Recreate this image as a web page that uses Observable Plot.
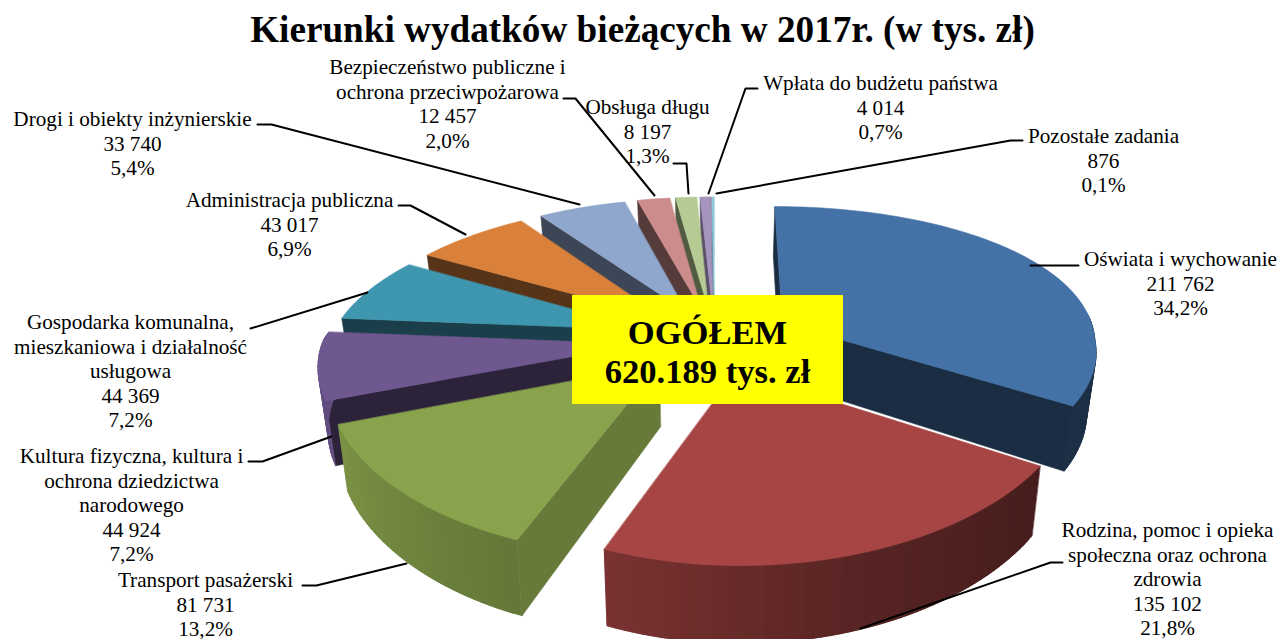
<!DOCTYPE html>
<html lang="pl">
<head>
<meta charset="utf-8">
<script src="https://cdn.jsdelivr.net/npm/d3@7"></script>
<script src="https://cdn.jsdelivr.net/npm/@observablehq/plot@0.6"></script>
<style>
html,body{margin:0;padding:0;background:#fff;overflow:hidden;width:1279px;height:639px}
#title{height:54px;width:1285px;text-align:center;font:bold 37.2px "Liberation Serif",serif;line-height:60px;color:#000;white-space:nowrap}
svg{display:block}
</style>
</head>
<body>
<div id="title">Kierunki wydatków bieżących w 2017r. (w tys. zł)</div>
<script>
// Data
const categories = [
  ["Oświata i wychowanie"],
  ["Rodzina, pomoc i opieka","społeczna oraz ochrona","zdrowia"],
  ["Transport pasażerski"],
  ["Kultura fizyczna, kultura i","ochrona dziedzictwa","narodowego"],
  ["Gospodarka komunalna,","mieszkaniowa i działalność","usługowa"],
  ["Administracja publiczna"],
  ["Drogi i obiekty inżynierskie"],
  ["Bezpieczeństwo publiczne i","ochrona przeciwpożarowa"],
  ["Obsługa długu"],
  ["Wpłata do budżetu państwa"],
  ["Pozostałe zadania"]
];
const values = [211762,135102,81731,44924,44369,43017,33740,12457,8197,4014,876];
const percents = ["34,2%","21,8%","13,2%","7,2%","7,2%","6,9%","5,4%","2,0%","1,3%","0,7%","0,1%"];
const colors = ["#4471A6","#A64543","#89A34D","#6F5790","#3F97AF","#D9813B","#8FA6CD","#CB8C8B","#B5CB93","#A594BE","#8ECBDD"];
const wallShade = [0.40,0.42,0.75,0.40,0.42,0.40,0.42,0.42,0.45,0.55,0.6];
const explode = [.25,.22,.24,.23,.22,.22,.22,.22,.22,.22,.22];
const centerLabel = ["OGÓŁEM","620.189 tys. zł"];

// Layout of labels and leader lines (page pixels)
const labelX = [1180,1167,205,131,130,289,132,447,647,880,1103];
const labelY = [259,530,580,456,322,200,119,67,107,83,136];
const lineStep = 24.5;
const leaders = [
  [[1030,265],[1078,265]],
  [[860,628],[1050,562],[1062,562]],
  [[302,585],[316,585],[406,563]],
  [[248,461],[262,461],[331,436]],
  [[250,328],[367,292]],
  [[398,205],[410,205],[465,234]],
  [[257,124],[271,124],[579,204]],
  [[563,98],[575,98],[654,195]],
  [[673,163],[686,163],[688,193]],
  [[757,88],[745,88],[708,193]],
  [[1022,140],[1010,140],[716,193]]
];

// 3D pie projection
const cx = 714, cy = 339, rx = 325, ry = 144, depth = 60;
function project(X, Yf, z) {
  const w = 1 - 0.19 * Yf;
  const p = (Yf >= 0 || X > 0) ? 1 - 0.126 * Yf : 1 - 0.2 * Yf;
  const side = X > 0 ? 1 - 0.035 * Math.max(0, Math.min(1, 1 - Yf / 0.7)) : 0.98;
  const k = z ? 0.975 : 1;
  return {x: cx + k * side * rx * X / p, y: cy + (ry * Yf + z * depth) / w};
}
const total = d3.sum(values);
const rimShade = d3.scaleLinear().domain([90,123,160,201,249,285]).range([.4,.42,.52,.73,.9,.85]).clamp(true);
const tone = (c, s) => { const q = d3.rgb(c); return d3.rgb(q.r*s, q.g*s, q.b*s).formatHex(); };

let start = 0;
const slices = values.map((v, i) => {
  const a0 = start, a1 = start + v / total * 360; start = a1;
  const mid = (a0 + a1) / 2 * Math.PI / 180;
  return {i, a0, a1, ox: explode[i] * Math.sin(mid), oy: -explode[i] * Math.cos(mid)};
});
const point = (s, deg, r, z) => {
  const t = deg * Math.PI / 180;
  return project(s.ox + r * Math.sin(t), s.oy - r * Math.cos(t), z);
};
const rad = d => d * Math.PI / 180;
const faces = [];
let fid = 0;
function addFace(pts, color) {
  const id = fid++;
  for (const p of pts) faces.push({id, x: p.x, y: p.y, color});
}
function addSlice(s) {
  const c = colors[s.i];
  const wall = deg => addFace([point(s,deg,0,0), point(s,deg,1,0), point(s,deg,1,1), point(s,deg,0,1)], tone(c, wallShade[s.i]));
  // only the walls that face the viewer are drawn
  if (-Math.sin(rad(s.a0)) >= -0.01) wall(s.a0);
  if (Math.sin(rad(s.a1)) >= -0.01 && s.a1 < 359.99) wall(s.a1);
  const n = Math.max(2, Math.ceil((s.a1 - s.a0) / 1.5));
  const steps = d3.range(n + 1).map(j => s.a0 + (s.a1 - s.a0) * j / n);
  for (let j = 0; j < n; j++) {
    if (Math.cos(rad(steps[j])) > 0.05 && Math.cos(rad(steps[j+1])) > 0.05) continue;
    const end = steps[Math.min(n, j + 2)];
    addFace([point(s,steps[j],1,0), point(s,end,1,0), point(s,end,1,1), point(s,steps[j],1,1)],
      tone(c, rimShade((steps[j] + steps[j+1]) / 2)));
  }
  addFace([point(s,s.a0,0,0), ...steps.map(d => point(s,d,1,0))], c);
}
// painter's order: back slices first, the front ones last
for (const i of [0,10,9,8,7,6,5,4,3,2,1]) addSlice(slices[i]);

const fmt = d3.formatLocale({decimal:",",thousands:" ",grouping:[3],currency:["",""]}).format(",d");
const labelRows = categories.flatMap((lines, i) =>
  [...lines, fmt(values[i]), percents[i]].map((text, j) => ({text, x: labelX[i], y: labelY[i] + j * lineStep}))
);
const leaderRows = leaders.flatMap((pts, id) => pts.map(([x, y]) => ({id, x, y})));

const chart = Plot.plot({
  width: 1279, height: 585,
  margin: 0,
  x: {domain: [0, 1279], range: [0, 1279], axis: null},
  y: {domain: [54, 639], range: [0, 585], axis: null},
  color: {type: "identity"},
  style: {background: "#fff"},
  marks: [
    Plot.line(faces, {x: "x", y: "y", z: "id", fill: "color", stroke: "color", strokeWidth: 0.6, curve: "linear-closed"}),
    Plot.line(leaderRows, {x: "x", y: "y", z: "id", stroke: "#000", strokeWidth: 2, curve: "linear"}),
    Plot.rect([{x1: 572, x2: 843, y1: 295, y2: 404}], {x1: "x1", x2: "x2", y1: "y1", y2: "y2", fill: "#ffff00"}),
    Plot.text(centerLabel, {x: () => 707, y: (d, i) => 332 + i * 39, text: d => d, fontFamily: "Liberation Serif", fontWeight: "bold", fontSize: 34.6, fill: "#000"}),
    Plot.text(labelRows, {x: "x", y: "y", text: "text", fontFamily: "Liberation Serif", fontSize: 21.2, fill: "#000"})
  ]
});
document.body.appendChild(chart);
</script>
</body>
</html>
